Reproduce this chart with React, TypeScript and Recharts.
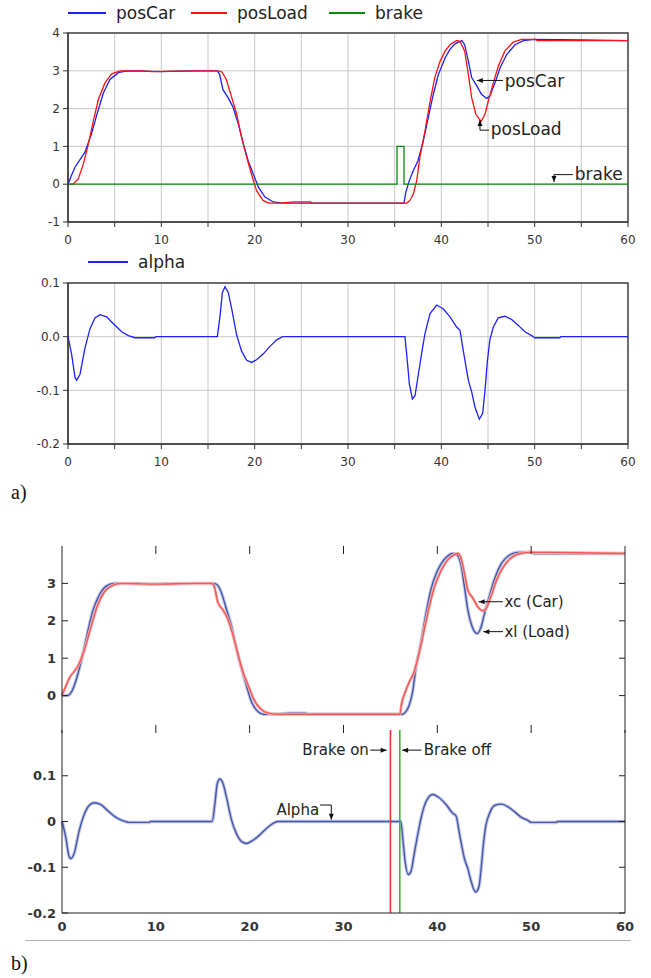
import React from 'react';
import {
  LineChart,
  Line,
  XAxis,
  YAxis,
  CartesianGrid,
  ReferenceLine,
  ReferenceArea,
  ReferenceDot,
} from 'recharts';

// time axis ticks
const xTicks = [0, 5, 10, 15, 20, 25, 30, 35, 40, 45, 50, 55, 60];
const xTicksB = [0, 10, 20, 30, 40, 50, 60];
const xTicksInner = [10, 20, 30, 40, 50];
const posTicks = [-1, 0, 1, 2, 3, 4];
const alphaTicksA = [-0.2, -0.1, 0, 0.1];
const posTicksB = [0, 1, 2, 3];
const alphaTicksB = [-0.2, -0.1, 0, 0.1];

// car position
const carT = [0, 0.4, 0.75, 1.8, 2.5, 3.1, 3.8, 4.5, 5.4, 6.3, 8, 10, 12, 14, 16.0, 16.25, 16.6, 17.15, 17.7, 18.25, 18.8, 19.3, 19.85, 20.4, 21.1, 22.0, 23.0, 25, 30, 36.0, 36.2, 36.57, 37.0, 37.5, 38.07, 38.6, 39.14, 39.68, 40.4, 40.9, 41.5, 42.2, 42.5, 42.9, 43.25, 43.8, 44.3, 44.86, 45.2, 45.75, 46.3, 47.0, 47.9, 48.8, 50.0, 55, 60];
const carX = [0, 0.25, 0.45, 0.84, 1.32, 1.85, 2.42, 2.77, 2.95, 3.0, 2.99, 2.98, 2.99, 3.0, 3.0, 2.9, 2.5, 2.29, 2.03, 1.59, 1.06, 0.62, 0.27, -0.08, -0.34, -0.47, -0.5, -0.5, -0.5, -0.5, -0.21, 0.095, 0.36, 0.62, 1.15, 1.76, 2.38, 2.9, 3.34, 3.56, 3.72, 3.8, 3.69, 3.25, 2.82, 2.6, 2.38, 2.27, 2.33, 2.68, 3.08, 3.43, 3.69, 3.8, 3.83, 3.82, 3.8];

// load position
const loadT = [0, 0.55, 1.1, 1.64, 2.18, 2.71, 3.25, 3.96, 4.68, 5.57, 8, 9, 12, 14, 16.1, 16.5, 16.96, 17.5, 18.07, 18.6, 19.15, 19.7, 20.2, 20.9, 21.5, 22.7, 24.2, 26.0, 26.1, 30, 36.3, 36.64, 37.0, 37.36, 37.7, 38.25, 38.8, 39.3, 39.86, 40.4, 40.93, 41.65, 42.0, 42.5, 42.9, 43.25, 43.7, 44.25, 44.68, 45.03, 45.57, 46.1, 46.8, 47.7, 48.6, 50.1, 50.3, 60];
const loadX = [0, 0, 0.14, 0.53, 1.06, 1.67, 2.24, 2.68, 2.92, 3.0, 3.0, 2.98, 2.99, 3.0, 3.0, 2.97, 2.77, 2.33, 1.85, 1.24, 0.71, 0.23, -0.17, -0.43, -0.5, -0.5, -0.47, -0.47, -0.5, -0.5, -0.5, -0.43, -0.26, 0.09, 0.71, 1.41, 2.2, 2.82, 3.25, 3.52, 3.69, 3.8, 3.78, 3.52, 2.9, 2.29, 1.85, 1.66, 1.85, 2.2, 2.68, 3.12, 3.52, 3.76, 3.83, 3.83, 3.8, 3.8];

// brake signal
const brakeT = [0, 35.25, 36.0, 60];
const brakeV = [0, 1, 0, 0];

// swing angle
const alphaT = [0, 0.39, 0.75, 0.93, 1.29, 1.82, 2.36, 2.89, 3.43, 4.14, 4.86, 5.75, 6.46, 7.18, 9.3, 9.4, 16.0, 16.3, 16.54, 16.82, 17.18, 17.54, 18.07, 18.6, 19.15, 19.68, 20.2, 20.93, 21.64, 22.36, 23.0, 36.1, 36.36, 36.57, 36.9, 37.18, 37.54, 37.9, 38.25, 38.79, 39.5, 40.2, 40.93, 41.64, 42.0, 42.36, 42.9, 43.25, 43.6, 44.07, 44.43, 44.68, 44.93, 45.2, 45.57, 46.1, 46.82, 47.54, 48.25, 48.96, 49.68, 50.0, 52.7, 52.8, 60];
const alphaV = [0, -0.033, -0.076, -0.081, -0.07, -0.021, 0.015, 0.035, 0.041, 0.037, 0.024, 0.009, 0.002, -0.002, -0.002, 0, 0, 0.04, 0.082, 0.093, 0.082, 0.052, 0.003, -0.027, -0.044, -0.048, -0.043, -0.032, -0.018, -0.006, 0, 0, -0.046, -0.088, -0.116, -0.11, -0.07, -0.03, 0.006, 0.043, 0.059, 0.052, 0.037, 0.018, 0.012, -0.027, -0.082, -0.103, -0.131, -0.154, -0.143, -0.1, -0.046, -0.006, 0.018, 0.035, 0.038, 0.032, 0.021, 0.009, 0.002, -0.002, -0.002, 0, 0];

const pts = (ts: number[], vs: number[]) => ts.map((t, i) => ({ t, v: vs[i] }));
const car = pts(carT, carX);
const load = pts(loadT, loadX);
const brake = pts(brakeT, brakeV);
const alpha = pts(alphaT, alphaV);

const SANS = 'DejaVu Sans';
const BLUE_B = '#4656a8';
const RED_B = '#ee5a5a';

// arrow drawn by ReferenceLine, head at the second point of the segment
const arrow = (head: boolean) => (p: any) => {
  const { x1, y1, x2, y2 } = p;
  const a = Math.atan2(y2 - y1, x2 - x1);
  const L = 6;
  const W = 2.5;
  const bx = x2 - L * Math.cos(a);
  const by = y2 - L * Math.sin(a);
  const tri = `${x2},${y2} ${bx - W * Math.sin(a)},${by + W * Math.cos(a)} ${bx + W * Math.sin(a)},${by - W * Math.cos(a)}`;
  return (
    <g>
      <line x1={x1} y1={y1} x2={x2} y2={y2} stroke="#111" strokeWidth={1} />
      {head && <polygon points={tri} fill="#111" />}
    </g>
  );
};

const txt = (s: string, anchor: 'start' | 'end', size: number) => (p: any) => (
  <text
    x={p.cx}
    y={p.cy}
    textAnchor={anchor}
    dominantBaseline="central"
    fontSize={size}
    fontFamily={SANS}
    fill="#222"
  >
    {s}
  </text>
);

const tickA = { fontSize: 12, fill: '#333', fontFamily: SANS };
const tickB = { fontSize: 13, fill: '#333', fontFamily: SANS, fontWeight: 'bold' as const };
const fmtX5 = (v: number) => (v % 10 === 0 ? String(v) : '');

// label outside the axis, short tick pointing into the plot
const inwardTick = (fmt: (v: number) => string) => (p: any) => (
  <g>
    <line x1={p.x + 6} y1={p.y} x2={p.x + 12} y2={p.y} stroke="#222" strokeWidth={1} />
    <text
      x={p.x}
      y={p.y}
      textAnchor="end"
      dominantBaseline="central"
      fontSize={13}
      fontWeight="bold"
      fontFamily={SANS}
      fill="#333"
    >
      {fmt(p.payload.value)}
    </text>
  </g>
);

// bare tick marks (no labels) going into the plot from an edge
const markDown = (p: any) => <line x1={p.x} y1={p.y} x2={p.x} y2={p.y + 8} stroke="#222" strokeWidth={1} />;
const markUp = (p: any) => <line x1={p.x} y1={p.y} x2={p.x} y2={p.y - 8} stroke="#222" strokeWidth={1} />;
const markLeft = (p: any) => <line x1={p.x} y1={p.y} x2={p.x - 6} y2={p.y} stroke="#222" strokeWidth={1} />;

function LegendItem({ color, label, left, top, width }: { color: string; label: string; left: number; top: number; width: number }) {
  return (
    <div style={{ position: 'absolute', left, top, display: 'flex', alignItems: 'center', fontFamily: SANS, fontSize: 17, color: '#222' }}>
      <div style={{ width, height: 0, borderTop: `2px solid ${color}`, marginRight: 10 }} />
      <span>{label}</span>
    </div>
  );
}

function PanelA1() {
  return (
    <div style={{ position: 'absolute', left: 0, top: 0 }}>
      <LineChart width={651} height={252} margin={{ top: 33, right: 23, left: 0, bottom: 0 }}>
        <CartesianGrid stroke="#c8c8c8" />
        <XAxis
          dataKey="t"
          type="number"
          domain={[0, 60]}
          ticks={xTicks}
          tickFormatter={fmtX5}
          height={30}
          tickSize={5}
          tickMargin={8}
          tick={tickA}
          stroke="#333"
          interval={0}
        />
        <YAxis
          type="number"
          domain={[-1, 4]}
          ticks={posTicks}
          width={68}
          tickSize={5}
          tickMargin={3}
          tick={tickA}
          stroke="#333"
          interval={0}
        />
        <ReferenceArea x1={0} x2={60} y1={-1} y2={4} fill="none" stroke="#444" strokeWidth={1.5} />
        <Line data={car} dataKey="v" type="linear" stroke="#1f1fff" strokeWidth={1.3} dot={false} isAnimationActive={false} />
        <Line data={load} dataKey="v" type="linear" stroke="#ff1010" strokeWidth={1.3} dot={false} isAnimationActive={false} />
        <Line data={brake} dataKey="v" type="stepAfter" stroke="#0a8a0a" strokeWidth={1.3} dot={false} isAnimationActive={false} />
        <ReferenceLine segment={[{ x: 46.6, y: 2.745 }, { x: 43.8, y: 2.745 }]} shape={arrow(true)} />
        <ReferenceDot x={46.8} y={2.72} r={0} shape={txt('posCar', 'start', 17)} />
        <ReferenceLine segment={[{ x: 45.1, y: 1.43 }, { x: 44.14, y: 1.43 }]} shape={arrow(false)} />
        <ReferenceLine segment={[{ x: 44.14, y: 1.43 }, { x: 44.14, y: 1.7 }]} shape={arrow(true)} />
        <ReferenceDot x={45.3} y={1.45} r={0} shape={txt('posLoad', 'start', 17)} />
        <ReferenceLine segment={[{ x: 54.1, y: 0.253 }, { x: 52.07, y: 0.253 }]} shape={arrow(false)} />
        <ReferenceLine segment={[{ x: 52.07, y: 0.253 }, { x: 52.07, y: 0.06 }]} shape={arrow(true)} />
        <ReferenceDot x={54.3} y={0.26} r={0} shape={txt('brake', 'start', 17)} />
      </LineChart>
      <LegendItem color="#1f1fff" label="posCar" left={68} top={3} width={38} />
      <LegendItem color="#ff1010" label="posLoad" left={191} top={3} width={36} />
      <LegendItem color="#0a8a0a" label="brake" left={329} top={3} width={36} />
    </div>
  );
}

function PanelA2() {
  return (
    <div style={{ position: 'absolute', left: 0, top: 250 }}>
      <LineChart width={651} height={230} margin={{ top: 33, right: 23, left: 0, bottom: 6 }}>
        <CartesianGrid stroke="#c8c8c8" />
        <XAxis
          dataKey="t"
          type="number"
          domain={[0, 60]}
          ticks={xTicks}
          tickFormatter={fmtX5}
          height={30}
          tickSize={5}
          tickMargin={8}
          tick={tickA}
          stroke="#333"
          interval={0}
        />
        <YAxis
          type="number"
          domain={[-0.2, 0.1]}
          ticks={alphaTicksA}
          tickFormatter={(v: number) => v.toFixed(1)}
          width={68}
          tickSize={5}
          tickMargin={3}
          tick={tickA}
          stroke="#333"
          interval={0}
        />
        <ReferenceArea x1={0} x2={60} y1={-0.2} y2={0.1} fill="none" stroke="#444" strokeWidth={1.5} />
        <Line data={alpha} dataKey="v" type="linear" stroke="#1f1fff" strokeWidth={1.3} dot={false} isAnimationActive={false} />
      </LineChart>
      <LegendItem color="#1f1fff" label="alpha" left={88} top={2} width={40} />
    </div>
  );
}

function PanelB1() {
  return (
    <div style={{ position: 'absolute', left: 0, top: 520 }}>
      <LineChart width={651} height={220} margin={{ top: 25, right: 25, left: 0, bottom: 6 }}>
        <XAxis
          xAxisId="top"
          orientation="top"
          dataKey="t"
          type="number"
          domain={[0, 60]}
          ticks={xTicksInner}
          height={1}
          tickSize={0}
          tickMargin={0}
          tickLine={false}
          tick={markDown}
          axisLine={false}
          interval={0}
        />
        <XAxis
          dataKey="t"
          type="number"
          domain={[0, 60]}
          ticks={xTicksInner}
          height={1}
          tickSize={0}
          tickMargin={0}
          tickLine={false}
          tick={markUp}
          axisLine={false}
          interval={0}
        />
        <YAxis
          type="number"
          domain={[-1, 4]}
          ticks={posTicksB}
          width={62}
          tickSize={0}
          tickMargin={6}
          tickLine={false}
          tick={inwardTick((v) => String(v))}
          stroke="#222"
          interval={0}
        />
        <YAxis
          yAxisId="r"
          orientation="right"
          type="number"
          domain={[-1, 4]}
          ticks={posTicksB}
          width={1}
          tickSize={0}
          tickMargin={0}
          tickLine={false}
          tick={markLeft}
          stroke="#222"
          interval={0}
        />
        {/* invisible copy so the top and right axes have a series */}
        <Line xAxisId="top" yAxisId="r" data={car} dataKey="v" stroke="none" dot={false} isAnimationActive={false} />
        <Line data={load} dataKey="v" type="monotone" stroke="#c3c9e6" strokeWidth={3.5} dot={false} isAnimationActive={false} />
        <Line data={load} dataKey="v" type="monotone" stroke={BLUE_B} strokeWidth={1.4} dot={false} isAnimationActive={false} />
        <Line data={car} dataKey="v" type="monotone" stroke="#f7b3b3" strokeWidth={3} dot={false} isAnimationActive={false} />
        <Line data={car} dataKey="v" type="monotone" stroke={RED_B} strokeWidth={1.4} dot={false} isAnimationActive={false} />
        <ReferenceLine segment={[{ x: 47.0, y: 2.51 }, { x: 44.4, y: 2.51 }]} shape={arrow(true)} />
        <ReferenceDot x={47.15} y={2.51} r={0} shape={txt('xc (Car)', 'start', 15)} />
        <ReferenceLine segment={[{ x: 47.0, y: 1.71 }, { x: 44.9, y: 1.71 }]} shape={arrow(true)} />
        <ReferenceDot x={47.15} y={1.71} r={0} shape={txt('xl (Load)', 'start', 15)} />
      </LineChart>
    </div>
  );
}

function PanelB2() {
  return (
    <div style={{ position: 'absolute', left: 0, top: 720 }}>
      <LineChart width={651} height={230} margin={{ top: 10, right: 25, left: 0, bottom: 7 }}>
        <XAxis
          dataKey="t"
          type="number"
          domain={[0, 60]}
          ticks={xTicksB}
          height={30}
          tickSize={0}
          tickLine={false}
          tickMargin={9}
          tick={tickB}
          stroke="#222"
          interval={0}
        />
        <YAxis
          type="number"
          domain={[-0.2, 0.2]}
          ticks={alphaTicksB}
          width={62}
          tickSize={0}
          tickMargin={6}
          tickLine={false}
          tick={inwardTick((v) => (v === 0 ? '0' : String(v)))}
          stroke="#222"
          interval={0}
        />
        <YAxis
          yAxisId="r"
          orientation="right"
          type="number"
          domain={[-0.2, 0.2]}
          ticks={alphaTicksB}
          width={1}
          tickSize={0}
          tickMargin={0}
          tickLine={false}
          tick={markLeft}
          stroke="#222"
          interval={0}
        />
        <Line yAxisId="r" data={alpha} dataKey="v" stroke="none" dot={false} isAnimationActive={false} />
        <Line data={alpha} dataKey="v" type="monotone" stroke="#c3c9e6" strokeWidth={3.5} dot={false} isAnimationActive={false} />
        <Line data={alpha} dataKey="v" type="monotone" stroke={BLUE_B} strokeWidth={1.4} dot={false} isAnimationActive={false} />
        <ReferenceLine x={35} stroke="#ee3333" strokeWidth={1.6} />
        <ReferenceLine x={36} stroke="#33bb33" strokeWidth={1.6} />
        <ReferenceDot x={32.7} y={0.156} r={0} shape={txt('Brake on', 'end', 15)} />
        <ReferenceLine segment={[{ x: 32.85, y: 0.156 }, { x: 34.6, y: 0.156 }]} shape={arrow(true)} />
        <ReferenceLine segment={[{ x: 38.3, y: 0.156 }, { x: 36.25, y: 0.156 }]} shape={arrow(true)} />
        <ReferenceDot x={38.55} y={0.156} r={0} shape={txt('Brake off', 'start', 15)} />
        <ReferenceDot x={27.4} y={0.025} r={0} shape={txt('Alpha', 'end', 15)} />
        <ReferenceLine segment={[{ x: 27.5, y: 0.036 }, { x: 28.7, y: 0.036 }]} shape={arrow(false)} />
        <ReferenceLine segment={[{ x: 28.7, y: 0.036 }, { x: 28.7, y: 0.004 }]} shape={arrow(true)} />
      </LineChart>
    </div>
  );
}

export default function App() {
  return (
    <div style={{ position: 'absolute', left: 0, top: 0, width: 651, height: 978, background: '#fff', overflow: 'hidden' }}>
      <PanelA1 />
      <PanelA2 />
      <div style={{ position: 'absolute', left: 11, top: 481, fontFamily: 'Liberation Serif', fontSize: 20, color: '#111' }}>a)</div>
      <PanelB1 />
      <PanelB2 />
      <div style={{ position: 'absolute', left: 25, top: 940, width: 606, height: 1, background: '#b0b0b0' }} />
      <div style={{ position: 'absolute', left: 11, top: 952, fontFamily: 'Liberation Serif', fontSize: 20, color: '#111' }}>b)</div>
    </div>
  );
}
